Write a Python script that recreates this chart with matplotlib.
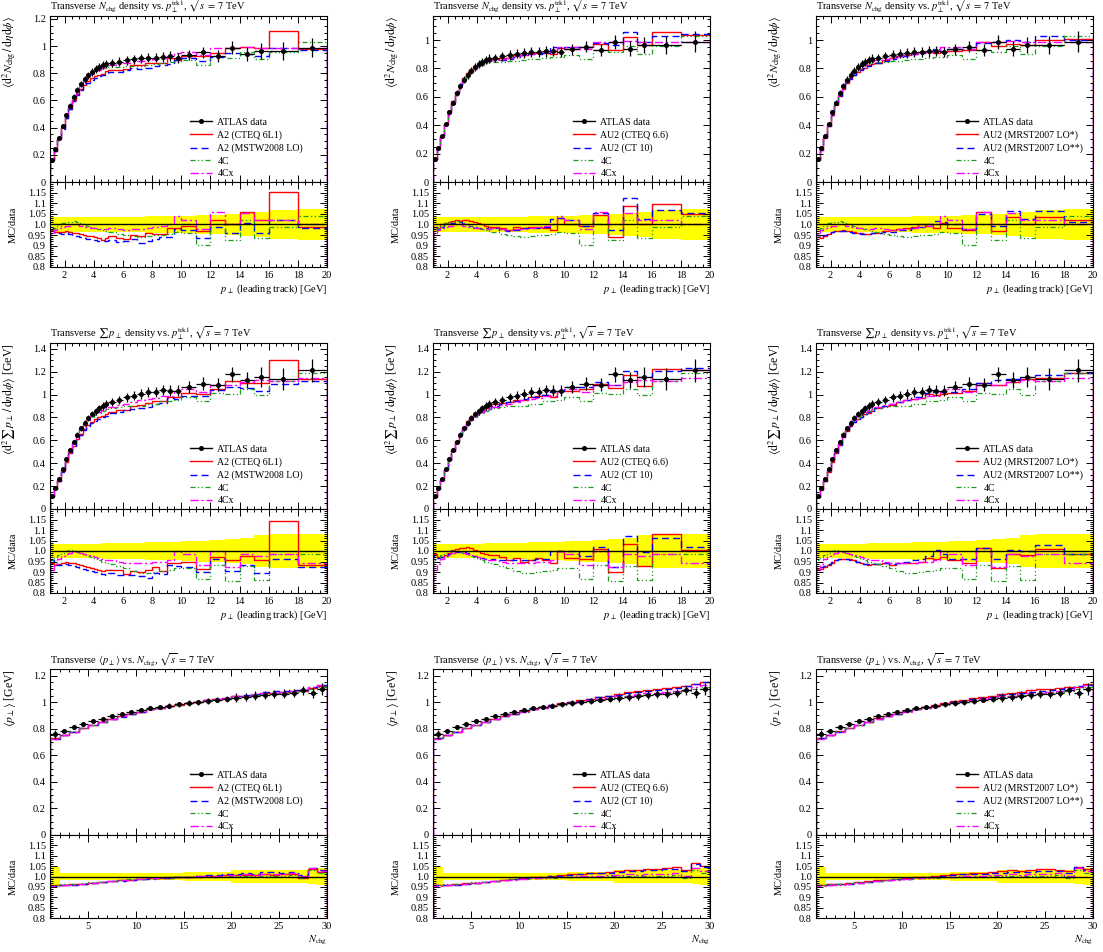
import numpy as np
import matplotlib
matplotlib.use("Agg")
import matplotlib.pyplot as plt
from matplotlib.lines import Line2D
from matplotlib.ticker import MultipleLocator, FixedLocator, FixedFormatter, FuncFormatter

plt.rcParams['font.family'] = 'serif'
plt.rcParams['font.serif'] = ['Liberation Serif', 'DejaVu Serif']
plt.rcParams['mathtext.fontset'] = 'stix'

# ========================================
# Data
# ========================================

# bin edges
ptlead_edges = [1.0, 1.25, 1.5, 1.75, 2.0, 2.25, 2.5, 2.75, 3.0, 3.25, 3.5, 3.75, 4.0,
                4.25, 4.5, 4.75, 5.0, 5.5, 6.0, 6.5, 7.0, 7.5, 8.0, 8.5, 9.0, 9.5, 10.0,
                11.0, 12.0, 13.0, 14.0, 15.0, 16.0, 18.0, 20.0]
nchg_edges = [1, 2, 3, 4, 5, 6, 7, 8, 9, 10, 11, 12, 13, 14, 15, 16, 17, 18, 19, 20,
              21, 22, 23, 24, 25, 26, 27, 28, 29, 30]

# --- row 1: Nchg density vs pT lead ---
nchg_data = [0.165, 0.24, 0.325, 0.41, 0.49, 0.56, 0.625, 0.675, 0.72, 0.755, 0.785, 0.81,
             0.83, 0.845, 0.86, 0.87, 0.875, 0.885, 0.895, 0.905, 0.91, 0.915, 0.915, 0.92,
             0.925, 0.915, 0.935, 0.955, 0.93, 0.99, 0.94, 0.965, 0.965, 0.99]
nchg_relerr = [0.035, 0.034, 0.033, 0.033, 0.033, 0.033, 0.033, 0.033, 0.033, 0.034, 0.034,
               0.034, 0.034, 0.035, 0.035, 0.035, 0.035, 0.036, 0.036, 0.037, 0.037, 0.038,
               0.038, 0.039, 0.040, 0.040, 0.042, 0.044, 0.047, 0.050, 0.055, 0.060, 0.066, 0.072]
nchg_r_4c = [0.975, 0.985, 0.995, 1.005, 1.01, 1.012, 1.015, 1.012, 1.008, 1.0, 0.995, 0.99,
             0.985, 0.98, 0.975, 0.97, 0.965, 0.955, 0.95, 0.945, 0.942, 0.945, 0.95, 0.952,
             0.955, 0.965, 0.96, 0.905, 1.0, 0.925, 1.02, 0.935, 0.99, 1.04]
nchg_r_4cx = [0.955, 0.975, 0.985, 0.99, 0.995, 0.995, 1.0, 1.0, 0.995, 0.99, 0.99, 0.985,
              0.985, 0.98, 0.98, 0.98, 0.985, 0.98, 0.975, 0.98, 0.98, 0.985, 0.99, 0.995,
              1.0, 1.04, 1.02, 0.98, 1.06, 1.0, 1.055, 1.02, 1.02, 1.0]
nchg_r_a2_cteq = [0.975, 0.965, 0.965, 0.965, 0.968, 0.965, 0.962, 0.958, 0.955, 0.95, 0.948,
                  0.945, 0.94, 0.935, 0.928, 0.935, 0.945, 0.935, 0.93, 0.95, 0.945, 0.96,
                  0.955, 0.955, 0.985, 0.985, 0.995, 0.97, 1.02, 1.0, 1.06, 1.02, 1.155, 0.99]
nchg_r_a2_mstw = [0.985, 0.965, 0.96, 0.955, 0.96, 0.955, 0.95, 0.945, 0.94, 0.935, 0.93,
                  0.928, 0.925, 0.922, 0.92, 0.922, 0.925, 0.918, 0.92, 0.93, 0.915, 0.92,
                  0.93, 0.94, 0.94, 0.98, 0.975, 0.935, 0.99, 0.96, 1.005, 0.96, 1.02, 0.985]
nchg_r_au2_cteq66 = [0.99, 0.985, 1.0, 1.005, 1.01, 1.015, 1.02, 1.018, 1.02, 1.022, 1.015,
                     1.01, 1.005, 1.0, 0.995, 0.99, 0.99, 0.985, 0.975, 0.99, 0.985, 0.99,
                     0.99, 0.985, 0.975, 1.03, 1.0, 0.995, 1.045, 0.94, 1.085, 1.0, 1.095, 1.05]
nchg_r_au2_ct10 = [0.99, 0.98, 0.99, 1.0, 1.0, 1.005, 1.01, 1.01, 1.008, 1.0, 0.995, 0.99,
                   0.985, 0.985, 0.985, 0.98, 0.985, 0.975, 0.97, 0.975, 0.985, 0.985, 0.985,
                   0.99, 1.025, 1.03, 1.02, 0.995, 1.055, 0.975, 1.125, 1.025, 1.07, 1.055]
nchg_r_au2_lo1 = [0.94, 0.935, 0.945, 0.955, 0.965, 0.97, 0.97, 0.972, 0.97, 0.968, 0.965,
                  0.96, 0.958, 0.955, 0.955, 0.96, 0.96, 0.97, 0.975, 0.98, 0.985, 0.99, 1.0,
                  0.995, 0.985, 1.005, 0.985, 0.975, 1.06, 0.97, 1.035, 1.0, 1.035, 1.02]
nchg_r_au2_lo2 = [0.95, 0.94, 0.95, 0.96, 0.965, 0.97, 0.97, 0.97, 0.968, 0.965, 0.962,
                  0.958, 0.955, 0.953, 0.953, 0.958, 0.96, 0.965, 0.965, 0.975, 0.975, 0.985,
                  0.99, 1.0, 1.015, 1.01, 1.0, 0.98, 1.05, 0.995, 1.065, 1.025, 1.065, 1.01]

# --- row 2: sum pT density vs pT lead ---
sumpt_data = [0.115, 0.185, 0.26, 0.35, 0.435, 0.515, 0.585, 0.65, 0.705, 0.755, 0.795,
              0.83, 0.855, 0.88, 0.90, 0.915, 0.935, 0.955, 0.975, 0.99, 1.005, 1.02, 1.02,
              1.04, 1.035, 1.035, 1.065, 1.095, 1.085, 1.175, 1.13, 1.155, 1.135, 1.21]
sumpt_relerr = [0.033, 0.033, 0.033, 0.033, 0.033, 0.033, 0.034, 0.034, 0.034, 0.034, 0.035,
                0.035, 0.035, 0.035, 0.036, 0.036, 0.036, 0.037, 0.038, 0.039, 0.040, 0.041,
                0.042, 0.043, 0.044, 0.045, 0.047, 0.050, 0.053, 0.056, 0.062, 0.075, 0.082, 0.083]
sumpt_r_4c = [0.955, 0.965, 0.98, 0.99, 1.0, 1.005, 1.002, 0.995, 0.99, 0.982, 0.975, 0.97,
              0.962, 0.955, 0.95, 0.945, 0.94, 0.93, 0.92, 0.905, 0.895, 0.895, 0.9, 0.905,
              0.91, 0.92, 0.92, 0.865, 0.935, 0.855, 0.93, 0.86, 0.985, 0.985]
sumpt_r_4cx = [0.91, 0.94, 0.96, 0.975, 0.985, 0.99, 0.995, 0.995, 0.99, 0.985, 0.98, 0.975,
               0.97, 0.965, 0.96, 0.955, 0.955, 0.95, 0.945, 0.945, 0.945, 0.945, 0.95, 0.95,
               0.955, 1.0, 0.985, 0.935, 1.0, 0.925, 0.985, 0.975, 0.985, 0.945]
sumpt_r_a2_cteq = [0.945, 0.935, 0.94, 0.945, 0.95, 0.945, 0.945, 0.94, 0.935, 0.93, 0.925,
                   0.92, 0.915, 0.91, 0.905, 0.91, 0.91, 0.91, 0.89, 0.905, 0.9, 0.91, 0.925,
                   0.905, 0.945, 0.945, 0.95, 0.915, 0.97, 0.955, 0.975, 0.955, 1.145, 0.935]
sumpt_r_a2_mstw = [0.955, 0.94, 0.935, 0.935, 0.94, 0.935, 0.93, 0.925, 0.92, 0.915, 0.91,
                   0.905, 0.9, 0.895, 0.89, 0.885, 0.895, 0.885, 0.885, 0.885, 0.88, 0.87,
                   0.895, 0.89, 0.935, 0.93, 0.925, 0.9, 0.96, 0.905, 0.935, 0.895, 0.96, 0.925]
sumpt_r_au2_cteq66 = [0.985, 0.97, 0.97, 0.98, 0.99, 1.005, 1.01, 1.012, 1.015, 1.02, 1.012,
                      1.005, 0.998, 0.99, 0.985, 0.98, 0.98, 0.97, 0.955, 0.965, 0.95, 0.955,
                      0.965, 0.955, 0.945, 1.0, 0.965, 0.96, 1.01, 0.9, 1.035, 0.93, 1.08, 1.005]
sumpt_r_au2_ct10 = [0.975, 0.965, 0.97, 0.975, 0.985, 0.99, 0.995, 0.995, 0.993, 0.99, 0.985,
                    0.978, 0.972, 0.965, 0.96, 0.958, 0.96, 0.958, 0.955, 0.955, 0.955, 0.955,
                    0.96, 0.96, 1.0, 1.0, 1.0, 0.975, 1.02, 0.925, 1.07, 0.995, 1.06, 1.02]
sumpt_r_au2_lo1 = [0.915, 0.915, 0.925, 0.935, 0.945, 0.955, 0.96, 0.962, 0.962, 0.96, 0.955,
                   0.95, 0.945, 0.94, 0.935, 0.94, 0.94, 0.945, 0.935, 0.945, 0.945, 0.945,
                   0.95, 0.965, 0.96, 0.97, 0.955, 0.945, 1.015, 0.92, 0.985, 0.98, 1.01, 0.985]
sumpt_r_au2_lo2 = [0.93, 0.925, 0.93, 0.94, 0.95, 0.955, 0.96, 0.962, 0.962, 0.958, 0.953,
                   0.948, 0.943, 0.94, 0.938, 0.94, 0.94, 0.945, 0.94, 0.945, 0.95, 0.955,
                   0.96, 0.975, 1.005, 0.985, 0.96, 0.96, 1.015, 0.96, 1.005, 1.0, 1.03, 0.985]

# --- row 3: <pT> vs Nchg ---
meanpt_data = [0.76, 0.785, 0.81, 0.835, 0.855, 0.875, 0.895, 0.91, 0.925, 0.94, 0.955, 0.965,
               0.975, 0.985, 0.995, 1.0, 1.01, 1.02, 1.025, 1.035, 1.04, 1.05, 1.055, 1.06,
               1.065, 1.07, 1.09, 1.07, 1.10]
meanpt_relerr = [0.045, 0.018, 0.018, 0.018, 0.018, 0.018, 0.018, 0.018, 0.018, 0.018, 0.018,
                 0.018, 0.018, 0.018, 0.02, 0.02, 0.02, 0.02, 0.02, 0.03, 0.03, 0.03, 0.03,
                 0.03, 0.03, 0.03, 0.03, 0.035, 0.04]
meanpt_r_4c = [0.960, 0.962, 0.964, 0.968, 0.972, 0.975, 0.979, 0.983, 0.986, 0.989, 0.991,
               0.993, 0.995, 0.996, 0.997, 0.998, 1.000, 1.000, 1.002, 1.003, 1.003, 1.002,
               1.004, 1.003, 1.004, 1.005, 0.995, 1.030, 1.015]
meanpt_r_4cx = [0.955, 0.958, 0.961, 0.965, 0.969, 0.973, 0.977, 0.981, 0.985, 0.988, 0.991,
                0.993, 0.996, 0.998, 1.000, 1.002, 1.004, 1.004, 1.006, 1.008, 1.010, 1.008,
                1.012, 1.012, 1.014, 1.016, 1.003, 1.042, 1.025]
meanpt_r_a2_cteq = [0.958, 0.960, 0.962, 0.966, 0.970, 0.974, 0.978, 0.982, 0.985, 0.988,
                    0.991, 0.993, 0.995, 0.997, 0.998, 1.000, 1.004, 1.003, 1.005, 1.008,
                    1.008, 1.006, 1.010, 1.008, 1.010, 1.012, 0.995, 1.035, 1.022]
meanpt_r_a2_mstw = [0.956, 0.958, 0.960, 0.965, 0.968, 0.972, 0.976, 0.980, 0.984, 0.987,
                    0.990, 0.992, 0.995, 0.998, 1.000, 1.003, 1.008, 1.006, 1.010, 1.012,
                    1.015, 1.012, 1.020, 1.020, 1.018, 1.020, 1.005, 1.040, 1.030]
meanpt_r_au2_cteq66 = [0.958, 0.960, 0.962, 0.967, 0.971, 0.975, 0.979, 0.984, 0.988, 0.992,
                       0.996, 0.999, 1.002, 1.006, 1.010, 1.013, 1.017, 1.018, 1.020, 1.025,
                       1.032, 1.030, 1.036, 1.036, 1.040, 1.044, 1.030, 1.065, 1.050]
meanpt_r_au2_ct10 = [0.957, 0.959, 0.961, 0.966, 0.970, 0.974, 0.978, 0.983, 0.987, 0.991,
                     0.995, 0.998, 1.001, 1.004, 1.008, 1.011, 1.015, 1.016, 1.018, 1.022,
                     1.028, 1.026, 1.030, 1.030, 1.034, 1.038, 1.026, 1.062, 1.045]
meanpt_r_au2_lo1 = [0.960, 0.962, 0.964, 0.968, 0.972, 0.976, 0.981, 0.985, 0.989, 0.993,
                    0.997, 1.000, 1.004, 1.008, 1.011, 1.014, 1.018, 1.019, 1.021, 1.025,
                    1.030, 1.028, 1.033, 1.034, 1.035, 1.033, 1.025, 1.045, 1.035]
meanpt_r_au2_lo2 = [0.958, 0.960, 0.962, 0.966, 0.970, 0.974, 0.978, 0.982, 0.986, 0.990,
                    0.994, 0.997, 1.000, 1.004, 1.007, 1.010, 1.013, 1.014, 1.016, 1.018,
                    1.022, 1.020, 1.024, 1.025, 1.026, 1.025, 1.018, 1.048, 1.030]

# legend labels for each column
col_labels = [
    ["A2 (CTEQ 6L1)", "A2 (MSTW2008 LO)"],
    ["AU2 (CTEQ 6.6)", "AU2 (CT 10)"],
    ["AU2 (MRST2007 LO*)", "AU2 (MRST2007 LO**)"],
]

# ========================================
# Row / column definitions
# ========================================

rows = [
    dict(edges=ptlead_edges, data=nchg_data, relerr=nchg_relerr,
         r4c=nchg_r_4c, r4cx=nchg_r_4cx,
         tunes=[(nchg_r_a2_cteq, nchg_r_a2_mstw), (nchg_r_au2_cteq66, nchg_r_au2_ct10),
                (nchg_r_au2_lo1, nchg_r_au2_lo2)],
         title=r"Transverse $N_\mathrm{chg}$ density vs. $p_\perp^\mathrm{trk1}$, $\sqrt{s}\,=\,7$ TeV",
         ylabel=r"$\langle\mathrm{d}^2 N_\mathrm{chg}\,/\,\mathrm{d}\eta\mathrm{d}\phi\rangle$",
         xlabel=r"$p_\perp$ (leading track) [GeV]",
         ymax=[1.222, 1.17, 1.17], xmajor=2, xminor=0.5),
    dict(edges=ptlead_edges, data=sumpt_data, relerr=sumpt_relerr,
         r4c=sumpt_r_4c, r4cx=sumpt_r_4cx,
         tunes=[(sumpt_r_a2_cteq, sumpt_r_a2_mstw), (sumpt_r_au2_cteq66, sumpt_r_au2_ct10),
                (sumpt_r_au2_lo1, sumpt_r_au2_lo2)],
         title=r"Transverse $\sum\, p_\perp$ density vs. $p_\perp^\mathrm{trk1}$, $\sqrt{s}\,=\,7$ TeV",
         ylabel=r"$\langle\mathrm{d}^2 \sum\, p_\perp\,/\,\mathrm{d}\eta\mathrm{d}\phi\rangle$ [GeV]",
         xlabel=r"$p_\perp$ (leading track) [GeV]",
         ymax=[1.45, 1.45, 1.45], xmajor=2, xminor=0.5),
    dict(edges=nchg_edges, data=meanpt_data, relerr=meanpt_relerr,
         r4c=meanpt_r_4c, r4cx=meanpt_r_4cx,
         tunes=[(meanpt_r_a2_cteq, meanpt_r_a2_mstw), (meanpt_r_au2_cteq66, meanpt_r_au2_ct10),
                (meanpt_r_au2_lo1, meanpt_r_au2_lo2)],
         title=r"Transverse $\langle p_\perp\rangle$ vs. $N_\mathrm{chg}$, $\sqrt{s}\,=\,7$ TeV",
         ylabel=r"$\langle p_\perp\rangle$ [GeV]",
         xlabel=r"$N_\mathrm{chg}$",
         ymax=[1.25, 1.25, 1.25], xmajor=5, xminor=1),
]

# pixel layout: (top, split, bottom) per row, left per column
W, H = 1103, 952
row_px = [(16, 182, 267), (343, 509, 593), (669, 835, 918)]
col_left = [50, 433, 816]
col_w = 277

RED, BLUE, GREEN, MAGENTA = '#ff0000', '#0000ff', '#1f9a1f', '#ff00ff'
styles = [
    dict(color=RED, linestyle='-', lw=1.0),
    dict(color=BLUE, linestyle=(0, (5, 3)), lw=1.0),
    dict(color=GREEN, linestyle=(0, (4, 2, 1, 2, 1, 2)), lw=0.9),
    dict(color=MAGENTA, linestyle=(0, (6, 2, 1.5, 2)), lw=1.0),
]

FS = 7.5
LEG_FS = 7.1
ratio_ticks = [0.8, 0.85, 0.9, 0.95, 1.0, 1.05, 1.1, 1.15]
ratio_ticklabels = ["0.8", "0.85", "0.9", "0.95", "1.0", "1.05", "1.1", "1.15"]

fig = plt.figure(figsize=(W / 100, H / 100), dpi=100)


def style_axis(ax, row):
    ax.tick_params(which='both', direction='in', top=True, right=True, labelsize=FS,
                   width=0.7, pad=3)
    ax.tick_params(which='major', length=5)
    ax.tick_params(which='minor', length=2.5)
    ax.xaxis.set_major_locator(MultipleLocator(row['xmajor']))
    ax.xaxis.set_minor_locator(MultipleLocator(row['xminor']))
    ax.set_xlim(row['edges'][0], row['edges'][-1])
    for s in ax.spines.values():
        s.set_linewidth(0.8)


for i, row in enumerate(rows):
    edges = np.array(row['edges'])
    centers = 0.5 * (edges[1:] + edges[:-1])
    halfw = 0.5 * (edges[1:] - edges[:-1])
    data = np.array(row['data'])
    relerr = np.array(row['relerr'])
    top, split, bot = row_px[i]

    for j in range(3):
        left = col_left[j]
        ax = fig.add_axes([left / W, 1 - split / H, col_w / W, (split - top) / H])
        axr = fig.add_axes([left / W, 1 - bot / H, col_w / W, (bot - split) / H])

        ratios = [row['tunes'][j][0], row['tunes'][j][1], row['r4c'], row['r4cx']]
        labels = col_labels[j] + ["4C", "4Cx"]

        # main panel
        for rat, st in zip(ratios, styles):
            ax.stairs(np.array(rat) * data, edges, **st)
        ax.errorbar(centers, data, xerr=halfw, yerr=relerr * data, fmt='o', ms=2.6,
                    color='black', elinewidth=0.9, capsize=0, zorder=5)
        style_axis(ax, row)
        ax.set_ylim(0, row['ymax'][j])
        ax.yaxis.set_major_locator(MultipleLocator(0.2))
        ax.yaxis.set_minor_locator(MultipleLocator(0.05))
        ax.yaxis.set_major_formatter(FuncFormatter(lambda v, p: "%g" % round(v, 2)))
        ax.tick_params(labelbottom=False)
        ax.set_title(row['title'], loc='left', fontsize=FS, pad=4)
        ax.set_ylabel(row['ylabel'], loc='top', fontsize=8.5)
        ax.yaxis.set_label_coords(-0.115, 1.0)

        handles = [Line2D([], [], color='black', marker='o', ms=2.6, lw=1.0)]
        for st in styles:
            handles.append(Line2D([], [], **st))
        ax.legend(handles, ["ATLAS data"] + labels, loc='upper left',
                  bbox_to_anchor=(0.49, 0.41), frameon=False, fontsize=LEG_FS,
                  handlelength=2.3, labelspacing=0.36, handletextpad=0.5,
                  borderaxespad=0)

        # ratio panel
        axr.stairs(1 + relerr, edges, baseline=1 - relerr, fill=True,
                   color='#ffff00', lw=0)
        axr.axhline(1.0, color='black', lw=1.0, zorder=4)
        for rat, st in zip(ratios, styles):
            axr.stairs(rat, edges, **st)
        style_axis(axr, row)
        axr.set_ylim(0.8, 1.2)
        axr.yaxis.set_major_locator(FixedLocator(ratio_ticks))
        axr.yaxis.set_major_formatter(FixedFormatter(ratio_ticklabels))
        axr.yaxis.set_minor_locator(MultipleLocator(0.01))
        axr.set_ylabel("MC/data", fontsize=FS)
        axr.yaxis.set_label_coords(-0.115, 0.5)
        axr.set_xlabel(row['xlabel'], fontsize=FS, loc='right', labelpad=2)

fig.savefig("out.png", dpi=100)
